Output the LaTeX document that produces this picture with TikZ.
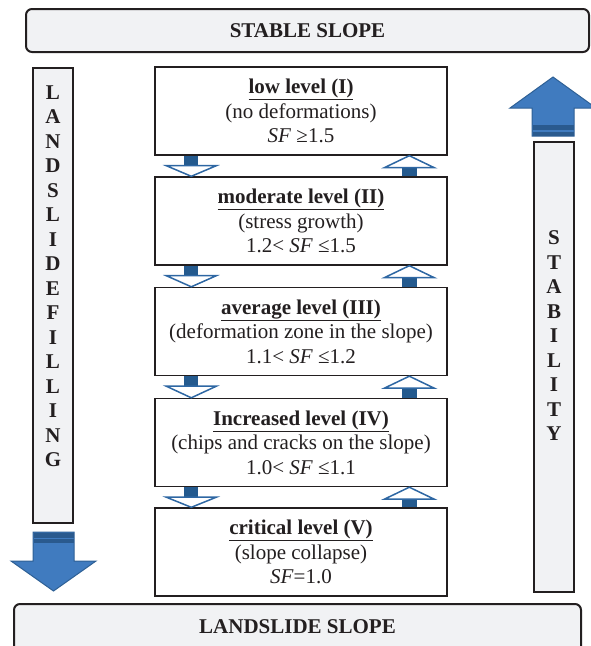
\documentclass[tikz,border=0pt]{standalone}
\usepackage{fontspec}
\setmainfont{Liberation Serif}
\usetikzlibrary{calc}
\definecolor{boxfill}{HTML}{F1F2F4}
\definecolor{edge}{HTML}{231F20}
\definecolor{bigblue}{HTML}{407BBF}
\definecolor{bigedge}{HTML}{2E6095}
\definecolor{band}{HTML}{2A5A8E}
\definecolor{smblue}{HTML}{2E67A3}
\definecolor{smdark}{HTML}{245A8E}
\newcommand\dnarr[2]{%
  \fill[smdark] ($(#1.south west)+(30,0)$) rectangle ($(#1.south west)+(44,10)$);
  \draw[smline] ($(#1.south west)+(12,10)$) -- ($(#1.south west)+(62,10)$) -- ($(#2.north west)+(37,0)$) -- cycle;}
\newcommand\uparr[2]{%
  \fill[smdark] ($(#2.north west)+(247.5,0)$) rectangle ($(#1.south west)+(262.5,12)$);
  \draw[smline] ($(#1.south west)+(230,12)$) -- ($(#1.south west)+(280,12)$) -- ($(#1.south west)+(255,0)$) -- cycle;}
\begin{document}
\begin{tikzpicture}[x=1pt,y=-1pt,
  panel/.style={draw=edge, line width=2pt, fill=boxfill, rounded corners=6pt, inner sep=0pt,
    font=\fontsize{21}{24}\selectfont\bfseries, text=edge},
  col/.style={draw=edge, line width=2.2pt, fill=boxfill, inner sep=0pt, minimum width=40pt},
  coltext/.style={align=center, inner sep=0pt, font=\fontsize{21}{24.5}\selectfont\bfseries, text=edge},
  lvl/.style={draw=edge, line width=1.4pt, fill=white, minimum width=292pt, minimum height=88pt,
    inner sep=0pt, align=center, font=\fontsize{21}{24.5}\selectfont, text=edge},
  smline/.style={draw=smblue, line width=1.5pt, fill=white, line join=miter},
  bigarr/.style={fill=bigblue, draw=bigedge, line width=1pt}]
\useasboundingbox (0,0) rectangle (591,646);
\clip (0,0) rectangle (591,646);

% panels
\node[panel, minimum width=563pt, minimum height=43pt] (top) at (307.5,30.5) {STABLE SLOPE};
\node[panel, minimum width=567pt, minimum height=52pt, text depth=0pt] (bot) at (297.5,630) {};
\node[font=\fontsize{21}{24}\selectfont\bfseries, text=edge, inner sep=0pt] (bottxt) at (297.5,627) {LANDSLIDE SLOPE};

% columns
\node[col, minimum height=455pt] (lcol) at (53,295.5) {};
\node[coltext] (ltxt) at (53,276) {L\\A\\N\\D\\S\\L\\I\\D\\E\\F\\I\\L\\L\\I\\N\\G};
\node[col, minimum height=450pt] (rcol) at (554,367) {};
\node[coltext] (rtxt) at (554,336) {S\\T\\A\\B\\I\\L\\I\\T\\Y};

% big arrows
\draw[bigarr] (33,532) -- (74,532) -- (74,561) -- (96,561) -- (53.5,591) -- (11,561) -- (33,561) -- cycle;
\fill[band] (33.5,532.5) rectangle (73.5,537.5);
\fill[band] (33.5,539) rectangle (73.5,543);
\draw[bigarr] (532,136) -- (574,136) -- (574,108) -- (596,108) -- (553,77) -- (510,108) -- (532,108) -- cycle;
\fill[band] (532.5,125) rectangle (573.5,130);
\fill[band] (532.5,131.5) rectangle (573.5,135.5);

% level boxes
\node[lvl] (b1) at (301,111) {\underline{\textbf{low level (I)}}\\(no deformations)\\\textit{SF} ≥1.5};
\node[lvl] (b2) at (301,221) {\underline{\textbf{moderate level (II)}}\\(stress growth)\\1.2< \textit{SF} ≤1.5};
\node[lvl] (b3) at (301,331.5) {\underline{\textbf{average level (III)}}\\(deformation zone in the slope)\\1.1< \textit{SF} ≤1.2};
\node[lvl] (b4) at (301,442.5) {\underline{\textbf{Increased level (IV)}}\\(chips and cracks on the slope)\\1.0< \textit{SF} ≤1.1};
\node[lvl] (b5) at (301,552) {\underline{\textbf{critical level (V)}}\\(slope collapse)\\\textit{SF}=1.0};

% small arrows
\dnarr{b1}{b2}\uparr{b1}{b2}
\dnarr{b2}{b3}\uparr{b2}{b3}
\dnarr{b3}{b4}\uparr{b3}{b4}
\dnarr{b4}{b5}\uparr{b4}{b5}
\end{tikzpicture}
\end{document}
